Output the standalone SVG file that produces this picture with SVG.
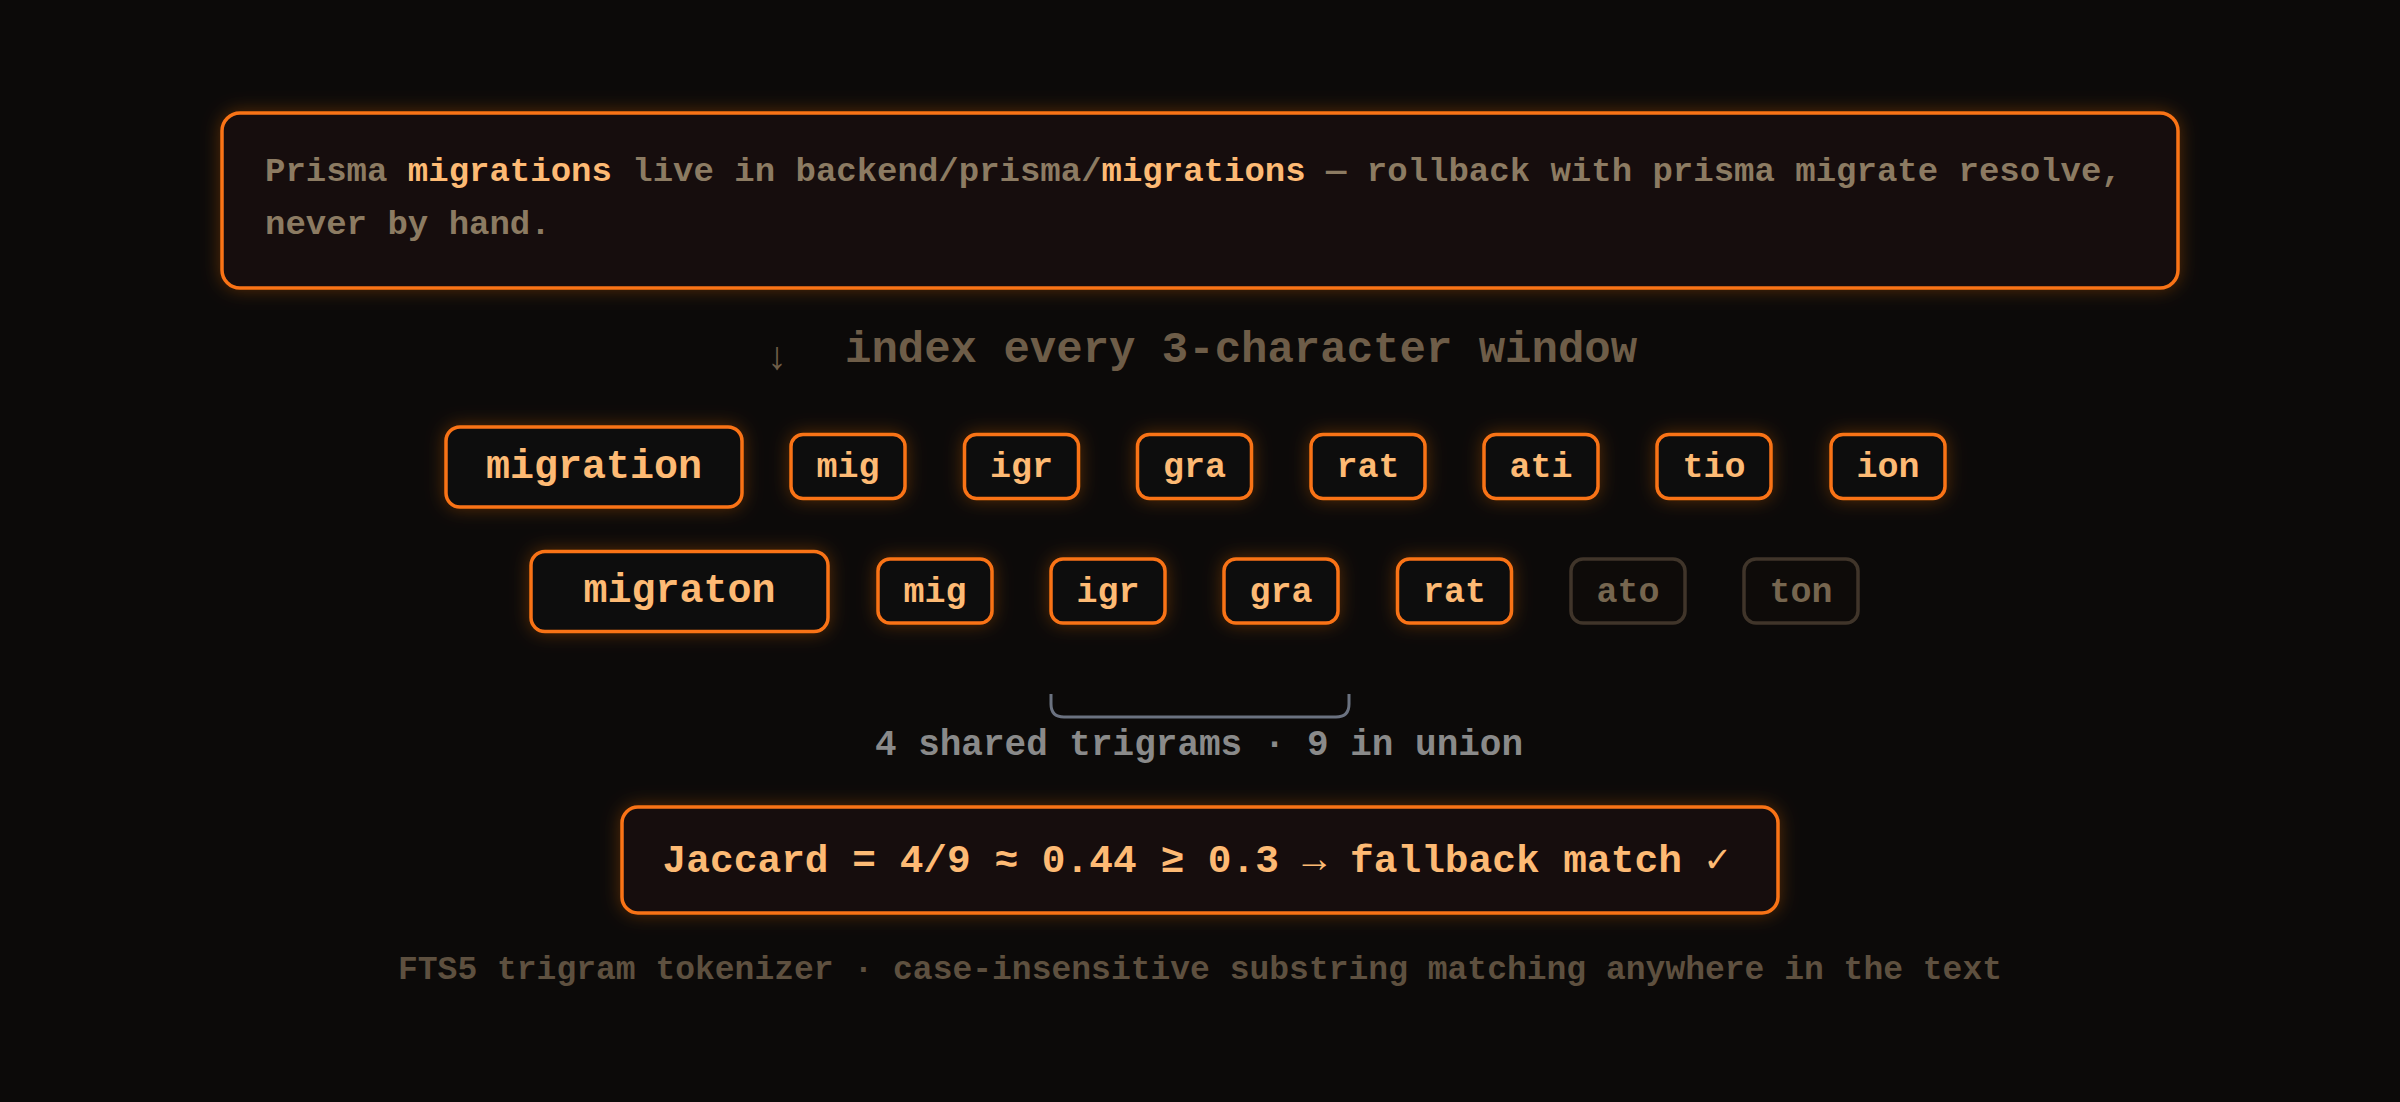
<svg xmlns="http://www.w3.org/2000/svg" width="2400" height="1102" viewBox="0 0 2400 1102">
<defs>
<filter id="glow" x="-20%" y="-40%" width="140%" height="180%">
<feGaussianBlur in="SourceAlpha" stdDeviation="9" result="b"/>
<feFlood flood-color="#f97316" flood-opacity="0.32"/>
<feComposite in2="b" operator="in"/>
<feMerge><feMergeNode/><feMergeNode in="SourceGraphic"/></feMerge>
</filter>
<style>
text{font-family:"Liberation Mono","DejaVu Sans Mono",monospace;font-weight:bold}
.box{fill:#0e0b09;stroke:#f97316;stroke-width:3.5}
.panel{fill:#15100c;stroke:#f97316;stroke-width:3.5}
.dimbox{fill:#0e0b09;stroke:#40352a;stroke-width:3.5}
.tri{font-size:35px;fill:#fdba74;text-anchor:middle}
.word{font-size:40px;fill:#fdba74;text-anchor:middle}
.dimtri{font-size:35px;fill:#76664f;text-anchor:middle}
.body{font-size:34px;fill:#8c7b62}
.hi{fill:#fdba74}
</style>
</defs>
<rect width="2400" height="1102" fill="#0c0a09"/>

<g id="source">
<rect class="panel" x="222" y="113" width="1956" height="175" rx="18" filter="url(#glow)"/>
<text class="body" x="265" y="181">Prisma <tspan class="hi">migrations</tspan> live in backend/prisma/<tspan class="hi">migrations</tspan> — rollback with prisma migrate resolve,</text>
<text class="body" x="265" y="234">never by hand.</text>
</g>

<g id="index-label">
<text x="777" y="369" style="font-size:39px;font-weight:normal;fill:#6e5d48;text-anchor:middle">↓</text>
<text x="845" y="362" style="font-size:44px;fill:#6e5d48">index every 3-character window</text>
</g>

<g id="row1">
<g id="w-migration"><rect class="box" x="446" y="427" width="296" height="80" rx="14" filter="url(#glow)"/><text class="word" x="594" y="478">migration</text></g>
<g id="r1-mig"><rect class="box" x="791" y="434.5" width="114" height="64" rx="12" filter="url(#glow)"/><text class="tri" x="848" y="477">mig</text></g>
<g id="r1-igr"><rect class="box" x="964.5" y="434.5" width="114" height="64" rx="12" filter="url(#glow)"/><text class="tri" x="1021.5" y="477">igr</text></g>
<g id="r1-gra"><rect class="box" x="1137.5" y="434.5" width="114" height="64" rx="12" filter="url(#glow)"/><text class="tri" x="1194.5" y="477">gra</text></g>
<g id="r1-rat"><rect class="box" x="1311" y="434.5" width="114" height="64" rx="12" filter="url(#glow)"/><text class="tri" x="1368" y="477">rat</text></g>
<g id="r1-ati"><rect class="box" x="1484" y="434.5" width="114" height="64" rx="12" filter="url(#glow)"/><text class="tri" x="1541" y="477">ati</text></g>
<g id="r1-tio"><rect class="box" x="1657" y="434.5" width="114" height="64" rx="12" filter="url(#glow)"/><text class="tri" x="1714" y="477">tio</text></g>
<g id="r1-ion"><rect class="box" x="1831" y="434.5" width="114" height="64" rx="12" filter="url(#glow)"/><text class="tri" x="1888" y="477">ion</text></g>
</g>

<g id="row2">
<g id="w-migraton"><rect class="box" x="531" y="551.5" width="297" height="80" rx="14" filter="url(#glow)"/><text class="word" x="679.5" y="602">migraton</text></g>
<g id="r2-mig"><rect class="box" x="878" y="559" width="114" height="64" rx="12" filter="url(#glow)"/><text class="tri" x="935" y="601.5">mig</text></g>
<g id="r2-igr"><rect class="box" x="1051" y="559" width="114" height="64" rx="12" filter="url(#glow)"/><text class="tri" x="1108" y="601.5">igr</text></g>
<g id="r2-gra"><rect class="box" x="1224" y="559" width="114" height="64" rx="12" filter="url(#glow)"/><text class="tri" x="1281" y="601.5">gra</text></g>
<g id="r2-rat"><rect class="box" x="1397.5" y="559" width="114" height="64" rx="12" filter="url(#glow)"/><text class="tri" x="1454.5" y="601.5">rat</text></g>
<g id="r2-ato"><rect class="dimbox" x="1571" y="559" width="114" height="64" rx="12"/><text class="dimtri" x="1628" y="601.5">ato</text></g>
<g id="r2-ton"><rect class="dimbox" x="1744" y="559" width="114" height="64" rx="12"/><text class="dimtri" x="1801" y="601.5">ton</text></g>
</g>

<g id="connectors">
<path d="M1051 694 V704 Q1051 717 1064 717 H1336 Q1349 717 1349 704 V694" fill="none" stroke="#6b7280" stroke-width="3"/>
</g>

<g id="shared-label">
<text x="1199" y="755" style="font-size:36px;fill:#8a8a8a;text-anchor:middle">4 shared trigrams · 9 in union</text>
</g>

<g id="jaccard">
<rect class="panel" x="622" y="807" width="1156" height="106" rx="16" filter="url(#glow)"/>
<text x="1196" y="872" style="font-size:39.5px;fill:#fdba74;text-anchor:middle">Jaccard = 4/9 ≈ 0.44 ≥ 0.3 → fallback match ✓</text>
</g>

<g id="footer">
<text x="1200" y="979" style="font-size:33px;fill:#5e503f;text-anchor:middle">FTS5 trigram tokenizer · case-insensitive substring matching anywhere in the text</text>
</g>
</svg>
